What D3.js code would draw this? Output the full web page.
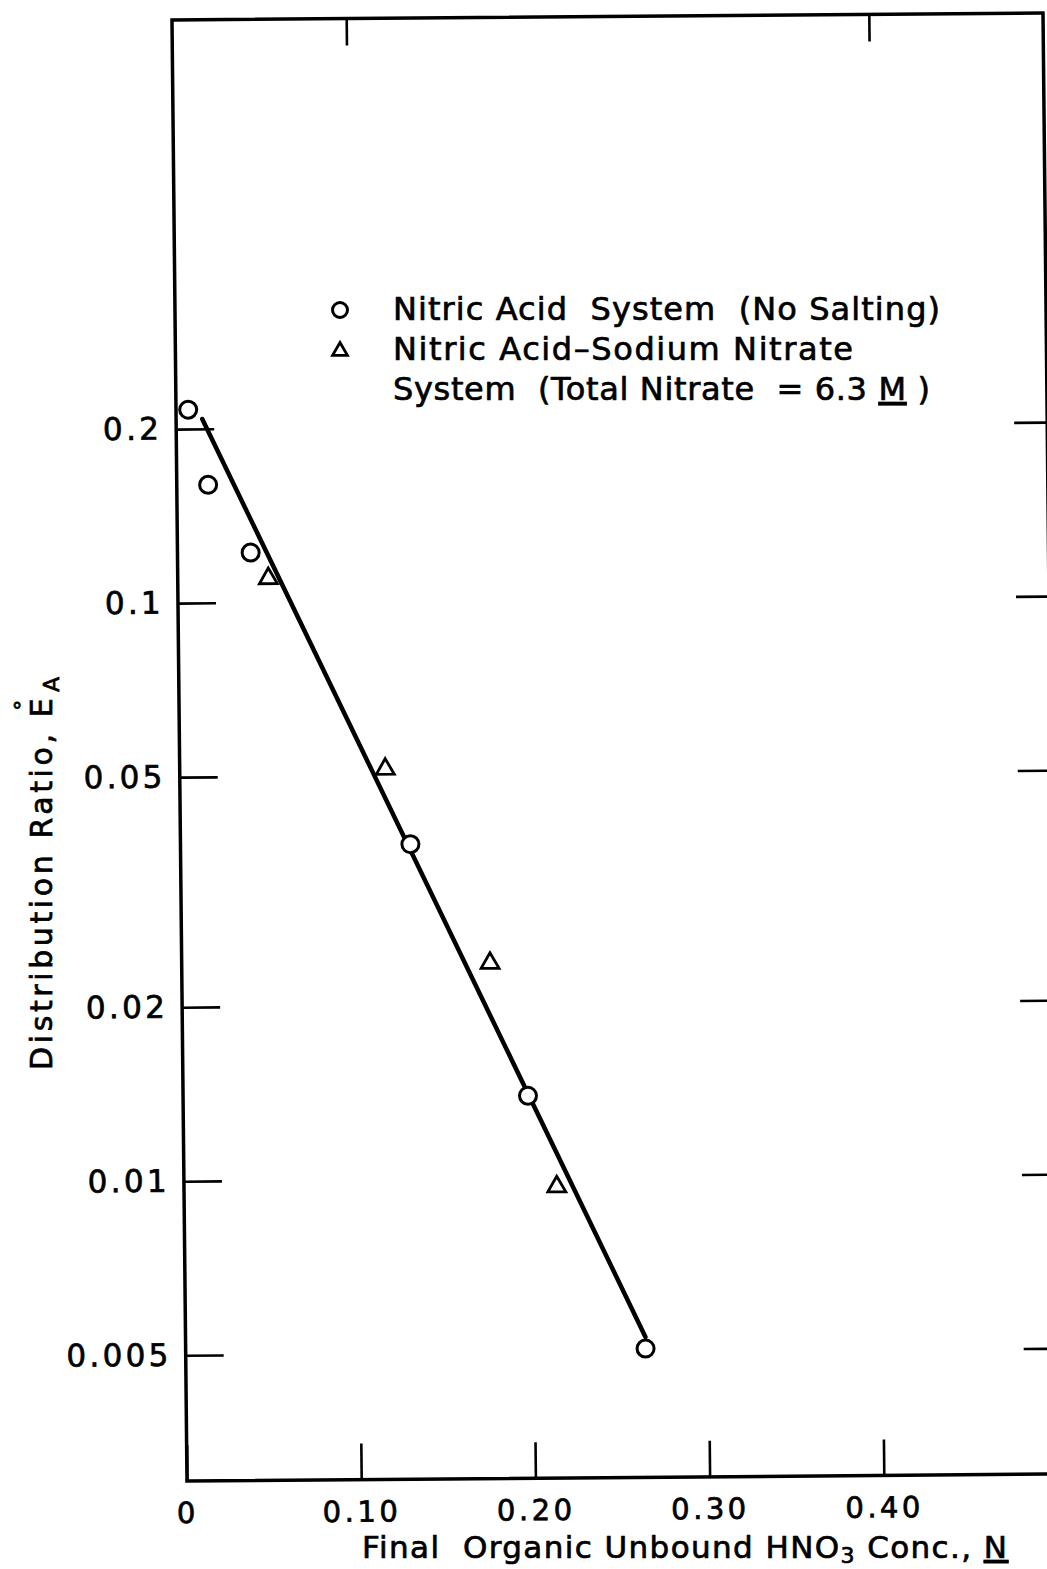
<!DOCTYPE html>
<html>
<head>
<meta charset="utf-8">
<script src="https://cdn.jsdelivr.net/npm/d3@7"></script>
<style>
  body { margin: 0; background: #fff; }
  text { font-family: "DejaVu Sans", sans-serif; fill: #000; stroke: #000; stroke-width: 0.7px; white-space: pre; }
</style>
</head>
<body>
<script>
// Values
var circleX = [0.007, 0.018, 0.042, 0.132, 0.198, 0.264];
var circleY = [0.216, 0.160, 0.122, 0.038, 0.0139, 0.00506];
var triangleX = [0.052, 0.118, 0.177, 0.214];
var triangleY = [0.110, 0.0513, 0.0236, 0.00967];
var fitX = [0.015, 0.264];
var fitY = [0.208, 0.0053];

var yTicks = [0.2, 0.1, 0.05, 0.02, 0.01, 0.005];
var yTickLabels = ["0.2", "0.1", "0.05", "0.02", "0.01", "0.005"];
var xTicks = [0, 0.1, 0.2, 0.3, 0.4];
var xTickLabels = ["0", "0.10", "0.20", "0.30", "0.40"];
var xTopTicks = [0.1, 0.4];

var legendCircle = "Nitric Acid  System  (No Salting)";
var legendTriangle1 = "Nitric Acid\u2013Sodium Nitrate";
var legendTriangle2 = ["System  (Total Nitrate  = 6.3 ", "M", " )"];

// Plot box (window.top is reserved, so plain names)
var boxLeft = 187, boxTop = 20, boxRight = 1058, boxBottom = 1481;

var svg = d3.select("body")
    .append("svg")
    .attr("width", 1047)
    .attr("height", 1569);

// the scanned sheet leans a little, so the plot sits in a slightly sheared frame
var plot = svg.append("g")
    .attr("transform", "matrix(1,-0.008,0.01027,1,-15.21,1.496)");

var x = d3.scaleLinear().domain([0, 0.5]).range([boxLeft, boxRight]);
var y = d3.scaleLog().domain([0.00303, 1]).range([boxBottom, 25]);

function tidy(g, size) {
    g.attr("font-family", null).attr("font-size", size);
    g.select(".domain").remove();
    g.selectAll(".tick line").attr("stroke", "#000").attr("stroke-width", 2.6);
    g.selectAll(".tick text").attr("fill", "#000");
}

// Left axis: ticks point inwards, labels outside
plot.append("g")
    .attr("transform", "translate(" + boxLeft + ",0)")
    .call(d3.axisLeft(y)
        .tickValues(yTicks)
        .tickFormat(function (d, i) { return yTickLabels[i]; })
        .tickSizeInner(-38).tickSizeOuter(0).tickPadding(14))
    .call(tidy, 31)
    .selectAll(".tick text").attr("letter-spacing", 3.3);

// Right axis, ticks only
plot.append("g")
    .attr("transform", "translate(" + boxRight + ",0)")
    .call(d3.axisRight(y).tickValues(yTicks).tickFormat("")
        .tickSizeInner(-33).tickSizeOuter(0))
    .call(tidy, 10);

// Bottom axis
plot.append("g")
    .attr("transform", "translate(0," + boxBottom + ")")
    .call(d3.axisBottom(x)
        .tickValues(xTicks)
        .tickFormat(function (d, i) { return xTickLabels[i]; })
        .tickSizeInner(-36).tickSizeOuter(0))
    .call(tidy, 29)
    .selectAll(".tick text")
    .attr("y", 42).attr("dy", null)
    .attr("letter-spacing", 3.5);

// Top axis, ticks only
plot.append("g")
    .attr("transform", "translate(0," + boxTop + ")")
    .call(d3.axisTop(x).tickValues(xTopTicks).tickFormat("")
        .tickSizeInner(-27).tickSizeOuter(0))
    .call(tidy, 10);

// Frame
plot.append("rect")
    .attr("x", boxLeft).attr("y", boxTop)
    .attr("width", boxRight - boxLeft).attr("height", boxBottom - boxTop)
    .attr("fill", "none").attr("stroke", "#000").attr("stroke-width", 3.5);

// Fitted line
var line = d3.line()
    .x(function (d) { return x(d[0]); })
    .y(function (d) { return y(d[1]); });

plot.append("path")
    .datum(d3.zip(fitX, fitY))
    .attr("d", line)
    .attr("fill", "none").attr("stroke", "#000")
    .attr("stroke-width", 4.5).attr("stroke-linecap", "round");

// Nitric acid system (circles)
plot.selectAll(".circ")
    .data(d3.zip(circleX, circleY))
    .enter().append("circle")
    .attr("class", "circ")
    .attr("cx", function (d) { return x(d[0]); })
    .attr("cy", function (d) { return y(d[1]); })
    .attr("r", 8.5)
    .attr("fill", "#fff").attr("stroke", "#000").attr("stroke-width", 3);

// Nitric acid - sodium nitrate system (triangles)
var tri = d3.symbol(d3.symbolTriangle, 140);
plot.selectAll(".tri")
    .data(d3.zip(triangleX, triangleY))
    .enter().append("path")
    .attr("class", "tri")
    .attr("transform", function (d) { return "translate(" + x(d[0]) + "," + y(d[1]) + ")"; })
    .attr("d", tri)
    .attr("fill", "#fff").attr("stroke", "#000").attr("stroke-width", 2.8);

// spread letters so a text line spans the same width as in the figure
function fit(sel, target) {
    var node = sel.node();
    var n = node.getNumberOfChars();
    var w = node.getComputedTextLength();
    sel.attr("letter-spacing", (target - w) / (n - 1));
}

// Legend
var legend = svg.append("g");

legend.append("circle")
    .attr("cx", 340).attr("cy", 310).attr("r", 7.5)
    .attr("fill", "none").attr("stroke", "#000").attr("stroke-width", 3);

legend.append("path")
    .attr("transform", "translate(340,351)")
    .attr("d", d3.symbol(d3.symbolTriangle, 95)())
    .attr("fill", "none").attr("stroke", "#000").attr("stroke-width", 2.8);

legend.append("text")
    .attr("x", 393).attr("y", 320)
    .attr("font-size", 32)
    .text(legendCircle)
    .call(fit, 547);

legend.append("text")
    .attr("x", 393).attr("y", 360)
    .attr("font-size", 32)
    .text(legendTriangle1)
    .call(fit, 460);

var l3 = legend.append("text")
    .attr("x", 393).attr("y", 400)
    .attr("font-size", 32);
l3.selectAll("tspan")
    .data(legendTriangle2)
    .enter().append("tspan")
    .attr("text-decoration", function (d, i) { return i == 1 ? "underline" : null; })
    .text(function (d) { return d; });
l3.call(fit, 537);

// X axis title
var xt = svg.append("text")
    .attr("x", 362).attr("y", 1558)
    .attr("font-size", 31);
xt.append("tspan").text("Final  Organic Unbound HNO");
xt.append("tspan").attr("font-size", 22).attr("dy", 5).text("3");
xt.append("tspan").attr("dy", -5).text(" Conc., ");
xt.append("tspan").attr("text-decoration", "underline").text("N");
xt.call(fit, 645);

// Y axis title
var yt = svg.append("text")
    .attr("transform", "translate(52,1070) rotate(-90)")
    .attr("font-size", 30);
yt.append("tspan").text("Distribution Ratio, E");
yt.append("tspan").attr("font-size", 22).attr("dx", -16).attr("dy", -22).text("\u00b0");
yt.append("tspan").attr("font-size", 22).attr("dx", 4).attr("dy", 29).text("A");
yt.call(fit, 405);
</script>
</body>
</html>
